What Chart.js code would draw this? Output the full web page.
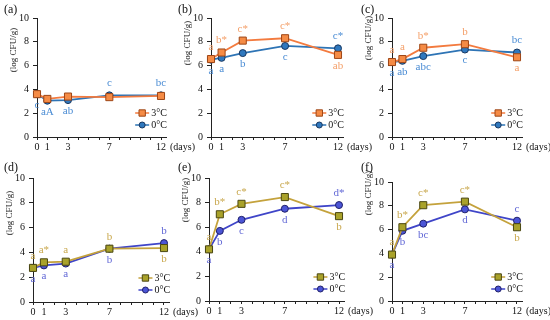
<!DOCTYPE html>
<html><head><meta charset="utf-8">
<script src="https://cdn.jsdelivr.net/npm/chart.js@4.4.1/dist/chart.umd.min.js"></script>
<style>
html,body{margin:0;padding:0;background:#fff;}
#wrap{position:relative;width:550px;height:320px;overflow:hidden;background:#fff;}
#wrap canvas{position:absolute;left:0;top:0;}
</style></head><body><div id="wrap"></div>
<script>
// ---------- data ----------
const days = [0, 1, 3, 7, 12];
const xTickLabels = [0, 1, 3, 7, 12];
const yTickStep = 2;
const yMax = 10;
const panelNames = ['(a)', '(b)', '(c)', '(d)', '(e)', '(f)'];
const seriesNames = ['3°C', '0°C'];
const yTitle = '(log CFU/g)';
const xUnit = '(days)';

const a3 = [3.6, 3.2, 3.4, 3.35, 3.45];
const a0 = [3.6, 3.05, 3.1, 3.5, 3.5];
const a3L = ['', '', '', '', ''];
const a0L = ['c', 'aA', 'ab', 'c', 'bc'];

const b3 = [6.55, 7.1, 8.1, 8.3, 6.9];
const b0 = [6.5, 6.65, 7.05, 7.65, 7.45];
const b3L = ['a', 'b*', 'c*', 'c*', 'ab'];
const b0L = ['a', 'a', 'b', 'c', 'c*'];

const c3 = [6.3, 6.55, 7.5, 7.8, 6.7];
const c0 = [6.3, 6.4, 6.8, 7.35, 7.1];
const c3L = ['a', 'a', 'b*', 'b', 'a'];
const c0L = ['a', 'ab', 'abc', 'c', 'bc'];

const d3 = [2.75, 3.2, 3.25, 4.3, 4.35];
const d0 = [2.75, 2.95, 3.1, 4.3, 4.75];
const d3L = ['a', 'a*', 'a', 'b', 'b'];
const d0L = ['a', 'a', 'a', 'b', 'b'];

const e3 = [4.2, 7.05, 7.9, 8.45, 6.9];
const e0 = [4.2, 5.7, 6.6, 7.5, 7.8];
const e3L = ['a', 'b*', 'c*', 'c*', 'b'];
const e0L = ['a', 'b', 'c', 'd', 'd*'];

const f3 = [3.9, 6.2, 8.05, 8.35, 6.2];
const f0 = [3.9, 5.9, 6.5, 7.7, 6.75];
const f3L = ['a', 'b*', 'c*', 'c*', 'b'];
const f0L = ['a', 'b', 'bc', 'd', 'c'];

const panelData = [
  [a3, a0, a3L, a0L], [b3, b0, b3L, b0L], [c3, c0, c3L, c0L],
  [d3, d0, d3L, d0L], [e3, e0, e3L, e0L], [f3, f0, f3L, f0L]
];

// ---------- layout & style ----------
const W = 550, H = 320, YW = 20, XH = 20;
const geom = [
  {L: 37,  X12: 161, T: 18,  B: 137, ty: 50,  lx: 4,   ly: 10},
  {L: 211, X12: 338, T: 18,  B: 137, ty: 43,  lx: 178, ly: 10},
  {L: 392, X12: 517, T: 18,  B: 137, ty: 38,  lx: 361, ly: 10},
  {L: 33,  X12: 164, T: 178, B: 302, ty: 213, lx: 4,   ly: 168},
  {L: 209, X12: 339, T: 178, B: 301, ty: 200, lx: 178, ly: 168},
  {L: 392, X12: 517, T: 182, B: 301, ty: 193, lx: 361, ly: 168}
];
const rowStyles = [
  [{line: '#F37B3F', fill: '#F58B45', border: '#9E4616', text: '#F4A06A', shape: 'rect', r: 5},
   {line: '#2E74B5', fill: '#2F78BE', border: '#183760', text: '#4A8CD4', shape: 'circle', r: 3.5}],
  [{line: '#C4A23C', fill: '#A9A22A', border: '#4A4712', text: '#C9A84E', shape: 'rect', r: 5},
   {line: '#3F45C8', fill: '#4B55D6', border: '#20206A', text: '#6268D6', shape: 'circle', r: 3.5}]
];
const FONT = 'Liberation Serif, Times New Roman, serif';

const wrap = document.getElementById('wrap');

const textPlugin = {
  id: 'panelText',
  afterDatasetsDraw(chart) {
    const ctx = chart.ctx;
    const p = chart.options.plugins.panelText;
    const ds = chart.data.datasets;
    ctx.save();
    ctx.font = '11px ' + FONT;
    ctx.textAlign = 'center';
    ctx.textBaseline = 'middle';
    ds.forEach((d, di) => {
      const meta = chart.getDatasetMeta(di);
      const other = ds[1 - di].data;
      d.data.forEach((pt, i) => {
        const lab = p.labels[di][i];
        if (!lab) return;
        const el = meta.data[i];
        const ov = other[i].y;
        const above = pt.y > ov || (pt.y === ov && di === 0);
        ctx.fillStyle = p.styles[di].text;
        ctx.fillText(lab, el.x, el.y + (above ? -12 : 11));
      });
    });
    ctx.restore();
  },
  afterDraw(chart) {
    const ctx = chart.ctx;
    const p = chart.options.plugins.panelText;
    const ca = chart.chartArea;
    const xs = chart.scales.x;
    ctx.save();
    ctx.fillStyle = '#111';
    // panel letter
    ctx.font = '12px ' + FONT;
    ctx.textAlign = 'left';
    ctx.textBaseline = 'middle';
    ctx.fillText(p.name, p.lx, p.ly);
    // y title
    ctx.font = '9px ' + FONT;
    ctx.save();
    ctx.translate(ca.left - 23, p.ty);
    ctx.rotate(-Math.PI / 2);
    ctx.textAlign = 'center';
    ctx.fillText(yTitle, 0, 0);
    ctx.restore();
    // (days)
    ctx.font = '10px ' + FONT;
    ctx.textAlign = 'left';
    ctx.fillText(xUnit, xs.getPixelForValue(12) + 9, ca.bottom + 10);
    // legend
    const ds = chart.data.datasets;
    ds.forEach((d, di) => {
      const y = ca.bottom - 24 + di * 12;
      const x0 = ca.right - 31, x1 = ca.right - 17;
      ctx.strokeStyle = d.borderColor;
      ctx.lineWidth = 1.5;
      ctx.beginPath(); ctx.moveTo(x0, y); ctx.lineTo(x1, y); ctx.stroke();
      ctx.fillStyle = d.pointBackgroundColor;
      ctx.strokeStyle = d.pointBorderColor;
      ctx.lineWidth = 1;
      Chart.helpers.drawPoint(ctx, {pointStyle: d.pointStyle, radius: d.pointRadius - 0.5, rotation: 0, borderWidth: 1}, (x0 + x1) / 2, y);
      ctx.fillStyle = '#111';
      ctx.font = '10px ' + FONT;
      ctx.textBaseline = 'middle';
      ctx.fillText(d.label, ca.right - 15, y + 0.5);
    });
    ctx.restore();
  }
};

panelData.forEach((pd, k) => {
  const g = geom[k];
  const st = rowStyles[k < 3 ? 0 : 1];
  const perDay = (g.X12 - g.L) / 12;
  const R = g.L + 12.5 * perDay;
  const cv = document.createElement('canvas');
  cv.width = W; cv.height = H;
  cv.style.width = W + 'px'; cv.style.height = H + 'px';
  wrap.appendChild(cv);
  const datasets = [0, 1].map(si => ({
    label: seriesNames[si],
    data: days.map((d, i) => ({x: d, y: pd[si][i]})),
    borderColor: st[si].line,
    backgroundColor: st[si].fill,
    borderWidth: 1.8,
    pointStyle: st[si].shape,
    pointRadius: st[si].r,
    pointBackgroundColor: st[si].fill,
    pointBorderColor: st[si].border,
    pointBorderWidth: 1,
    clip: false,
    tension: 0
  }));
  const tickFont = {family: FONT, size: 10};
  new Chart(cv, {
    type: 'line',
    data: {datasets},
    plugins: [textPlugin],
    options: {
      responsive: false, animation: false, devicePixelRatio: 1,
      events: [],
      layout: {padding: {left: g.L - YW, top: g.T, right: W - R, bottom: H - g.B - XH}},
      plugins: {
        legend: {display: false}, tooltip: {enabled: false},
        panelText: {name: panelNames[k], lx: g.lx, ly: g.ly, ty: g.ty, labels: [pd[2], pd[3]], styles: st}
      },
      scales: {
        x: {
          type: 'linear', min: 0, max: 12.5,
          afterBuildTicks(s) {
            const t = [];
            for (let v = 0; v <= Math.floor(s.max); v++) t.push({value: v});
            s.ticks = t;
          },
          afterFit(s) { s.height = XH; },
          ticks: {stepSize: 1, autoSkip: false, maxRotation: 0, padding: 1, font: tickFont, color: '#111',
                  callback: v => xTickLabels.includes(v) ? String(v) : ''},
          grid: {display: true, drawOnChartArea: false, drawTicks: true, tickLength: 3, color: '#222', lineWidth: 1},
          border: {display: true, color: '#222', width: 1}
        },
        y: {
          min: 0, max: yMax,
          afterFit(s) { s.width = YW; },
          ticks: {stepSize: yTickStep, padding: 4, font: tickFont, color: '#111'},
          grid: {display: true, drawOnChartArea: false, drawTicks: true, tickLength: 4, color: '#222', lineWidth: 1},
          border: {display: true, color: '#222', width: 1}
        }
      }
    }
  });
});
</script>
</body></html>
